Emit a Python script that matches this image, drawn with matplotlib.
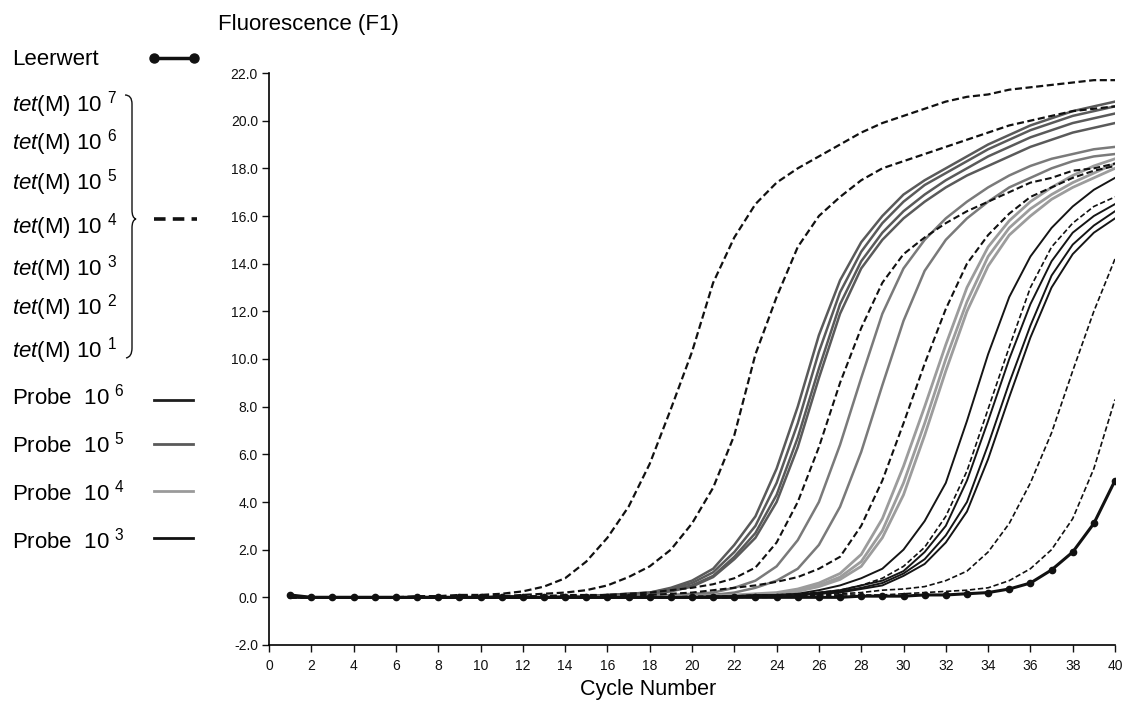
import matplotlib
matplotlib.use("Agg")
import matplotlib.pyplot as plt
from matplotlib.lines import Line2D
from matplotlib.path import Path
from matplotlib.patches import PathPatch
from matplotlib.ticker import FormatStrFormatter, MultipleLocator

plt.rcParams["font.family"] = ["Liberation Sans", "DejaVu Sans"]
plt.rcParams["mathtext.fontset"] = "custom"
plt.rcParams["mathtext.rm"] = "Liberation Sans"
plt.rcParams["mathtext.it"] = "Liberation Sans:italic"

# ---- data: fluorescence per cycle ----
cycles = list(range(1, 41))

leerwert = [0.1, 0.0, 0.0, 0.0, 0.0, 0.0, 0.0, 0.0, 0.0, 0.0,
            0.0, 0.0, 0.0, 0.0, 0.0, 0.0, 0.0, 0.0, 0.0, 0.0,
            0.0, 0.0, 0.0, 0.0, 0.0, 0.0, 0.0, 0.05, 0.05, 0.05,
            0.1, 0.1, 0.15, 0.2, 0.35, 0.6, 1.15, 1.9, 3.1, 4.9]

# tet(M) standards 10^7 ... 10^1 (dashed)
tet_1e7 = [0.05, 0.0, 0.0, 0.0, 0.0, 0.0, 0.05, 0.05, 0.1, 0.1,
           0.15, 0.25, 0.45, 0.8, 1.5, 2.5, 3.8, 5.6, 7.9, 10.3,
           13.2, 15.1, 16.5, 17.4, 18.0, 18.5, 19.0, 19.5, 19.9, 20.2,
           20.5, 20.8, 21.0, 21.1, 21.3, 21.4, 21.5, 21.6, 21.7, 21.7]
tet_1e6 = [0.0, 0.0, 0.0, 0.0, 0.0, 0.0, 0.0, 0.0, 0.05, 0.05,
           0.05, 0.1, 0.15, 0.2, 0.3, 0.5, 0.85, 1.3, 2.0, 3.1,
           4.6, 6.8, 10.2, 12.6, 14.7, 16.0, 16.8, 17.5, 18.0, 18.3,
           18.6, 18.9, 19.2, 19.5, 19.8, 20.0, 20.2, 20.4, 20.5, 20.6]
tet_1e5 = [0.0, 0.0, 0.0, 0.0, 0.0, 0.0, 0.0, 0.0, 0.0, 0.0,
           0.05, 0.05, 0.05, 0.1, 0.1, 0.1, 0.15, 0.2, 0.3, 0.4,
           0.55, 0.8, 1.25, 2.3, 4.0, 6.3, 9.0, 11.3, 13.2, 14.4,
           15.1, 15.7, 16.2, 16.6, 17.0, 17.4, 17.6, 17.9, 18.0, 18.2]
tet_1e4 = [0.0, 0.0, 0.0, 0.0, 0.0, 0.0, 0.0, 0.0, 0.0, 0.0,
           0.0, 0.0, 0.05, 0.05, 0.05, 0.05, 0.1, 0.1, 0.15, 0.2,
           0.3, 0.4, 0.5, 0.65, 0.85, 1.2, 1.7, 3.0, 4.9, 7.3,
           9.8, 12.1, 14.0, 15.2, 16.1, 16.8, 17.2, 17.6, 17.9, 18.1]
tet_1e3 = [0.0, 0.0, 0.0, 0.0, 0.0, 0.0, 0.0, 0.0, 0.0, 0.0,
           0.0, 0.0, 0.0, 0.0, 0.0, 0.0, 0.0, 0.0, 0.0, 0.05,
           0.05, 0.05, 0.1, 0.1, 0.15, 0.2, 0.3, 0.5, 0.8, 1.3,
           2.1, 3.4, 5.3, 7.9, 10.5, 13.0, 14.7, 15.7, 16.4, 16.8]
tet_1e2 = [0.0, 0.0, 0.0, 0.0, 0.0, 0.0, 0.0, 0.0, 0.0, 0.0,
           0.0, 0.0, 0.0, 0.0, 0.0, 0.0, 0.0, 0.0, 0.0, 0.0,
           0.0, 0.0, 0.05, 0.05, 0.05, 0.1, 0.15, 0.2, 0.3, 0.35,
           0.45, 0.7, 1.1, 1.9, 3.1, 4.8, 6.9, 9.5, 12.0, 14.2]
tet_1e1 = [0.0, 0.0, 0.0, 0.0, 0.0, 0.0, 0.0, 0.0, 0.0, 0.0,
           0.0, 0.0, 0.0, 0.0, 0.0, 0.0, 0.0, 0.0, 0.0, 0.0,
           0.0, 0.0, 0.0, 0.0, 0.05, 0.05, 0.1, 0.1, 0.1, 0.15,
           0.2, 0.25, 0.3, 0.4, 0.7, 1.2, 2.0, 3.3, 5.4, 8.3]

# samples, four replicates per dilution where visible
probe_a = [
    [0.0, 0.0, 0.0, 0.0, 0.0, 0.0, 0.0, 0.0, 0.0, 0.0,
     0.0, 0.0, 0.0, 0.05, 0.05, 0.1, 0.15, 0.2, 0.4, 0.7,
     1.2, 2.2, 3.4, 5.4, 8.0, 11.0, 13.3, 14.9, 16.0, 16.9,
     17.5, 18.0, 18.5, 19.0, 19.4, 19.8, 20.1, 20.4, 20.6, 20.8],
    [0.0, 0.0, 0.0, 0.0, 0.0, 0.0, 0.0, 0.0, 0.0, 0.0,
     0.0, 0.0, 0.0, 0.0, 0.05, 0.1, 0.15, 0.2, 0.35, 0.6,
     1.05, 1.9, 3.0, 4.8, 7.3, 10.3, 12.8, 14.5, 15.7, 16.6,
     17.3, 17.8, 18.3, 18.8, 19.2, 19.6, 19.9, 20.2, 20.4, 20.6],
    [0.0, 0.0, 0.0, 0.0, 0.0, 0.0, 0.0, 0.0, 0.0, 0.0,
     0.0, 0.0, 0.0, 0.0, 0.05, 0.05, 0.1, 0.15, 0.3, 0.5,
     0.9, 1.7, 2.7, 4.3, 6.7, 9.6, 12.3, 14.1, 15.3, 16.2,
     16.9, 17.5, 18.0, 18.5, 18.9, 19.3, 19.6, 19.9, 20.1, 20.3],
    [0.0, 0.0, 0.0, 0.0, 0.0, 0.0, 0.0, 0.0, 0.0, 0.0,
     0.0, 0.0, 0.0, 0.0, 0.05, 0.05, 0.1, 0.15, 0.25, 0.45,
     0.85, 1.6, 2.5, 4.0, 6.3, 9.2, 11.9, 13.8, 15.0, 15.9,
     16.6, 17.2, 17.7, 18.1, 18.5, 18.9, 19.2, 19.5, 19.7, 19.9],
]
probe_b = [
    [0.0, 0.0, 0.0, 0.0, 0.0, 0.0, 0.0, 0.0, 0.0, 0.0,
     0.0, 0.0, 0.0, 0.0, 0.05, 0.05, 0.05, 0.1, 0.1, 0.15,
     0.2, 0.4, 0.7, 1.3, 2.4, 4.0, 6.4, 9.2, 11.9, 13.8,
     15.0, 15.9, 16.6, 17.2, 17.7, 18.1, 18.4, 18.6, 18.8, 18.9],
    [0.0, 0.0, 0.0, 0.0, 0.0, 0.0, 0.0, 0.0, 0.0, 0.0,
     0.0, 0.0, 0.0, 0.0, 0.0, 0.05, 0.05, 0.05, 0.05, 0.1,
     0.1, 0.2, 0.4, 0.7, 1.2, 2.2, 3.8, 6.1, 8.9, 11.6,
     13.7, 15.0, 15.9, 16.6, 17.2, 17.6, 18.0, 18.3, 18.5, 18.6],
]
probe_c = [
    [0.0, 0.0, 0.0, 0.0, 0.0, 0.0, 0.0, 0.0, 0.0, 0.0,
     0.0, 0.0, 0.0, 0.0, 0.0, 0.0, 0.0, 0.0, 0.05, 0.05,
     0.05, 0.1, 0.15, 0.2, 0.35, 0.6, 1.0, 1.8, 3.3, 5.5,
     8.0, 10.6, 13.0, 14.7, 15.8, 16.6, 17.2, 17.7, 18.1, 18.4],
    [0.0, 0.0, 0.0, 0.0, 0.0, 0.0, 0.0, 0.0, 0.0, 0.0,
     0.0, 0.0, 0.0, 0.0, 0.0, 0.0, 0.0, 0.0, 0.0, 0.05,
     0.05, 0.05, 0.1, 0.15, 0.3, 0.5, 0.85, 1.5, 2.8, 4.8,
     7.3, 10.0, 12.4, 14.3, 15.5, 16.3, 16.9, 17.4, 17.8, 18.2],
    [0.0, 0.0, 0.0, 0.0, 0.0, 0.0, 0.0, 0.0, 0.0, 0.0,
     0.0, 0.0, 0.0, 0.0, 0.0, 0.0, 0.0, 0.0, 0.0, 0.05,
     0.05, 0.05, 0.1, 0.15, 0.25, 0.45, 0.75, 1.3, 2.5, 4.3,
     6.8, 9.5, 12.0, 13.9, 15.2, 16.0, 16.7, 17.2, 17.6, 18.0],
]
probe_d = [
    [0.0, 0.0, 0.0, 0.0, 0.0, 0.0, 0.0, 0.0, 0.0, 0.0,
     0.0, 0.0, 0.0, 0.0, 0.0, 0.0, 0.0, 0.0, 0.0, 0.0,
     0.05, 0.05, 0.1, 0.1, 0.15, 0.3, 0.5, 0.8, 1.2, 2.0,
     3.2, 4.8, 7.4, 10.2, 12.6, 14.3, 15.5, 16.4, 17.1, 17.6],
    [0.0, 0.0, 0.0, 0.0, 0.0, 0.0, 0.0, 0.0, 0.0, 0.0,
     0.0, 0.0, 0.0, 0.0, 0.0, 0.0, 0.0, 0.0, 0.0, 0.0,
     0.0, 0.05, 0.05, 0.1, 0.1, 0.2, 0.3, 0.5, 0.7, 1.1,
     1.9, 3.0, 4.9, 7.4, 10.0, 12.3, 14.1, 15.3, 16.0, 16.5],
    [0.0, 0.0, 0.0, 0.0, 0.0, 0.0, 0.0, 0.0, 0.0, 0.0,
     0.0, 0.0, 0.0, 0.0, 0.0, 0.0, 0.0, 0.0, 0.0, 0.0,
     0.0, 0.0, 0.05, 0.05, 0.1, 0.15, 0.25, 0.4, 0.6, 1.0,
     1.6, 2.6, 4.0, 6.4, 9.0, 11.4, 13.5, 14.8, 15.6, 16.2],
    [0.0, 0.0, 0.0, 0.0, 0.0, 0.0, 0.0, 0.0, 0.0, 0.0,
     0.0, 0.0, 0.0, 0.0, 0.0, 0.0, 0.0, 0.0, 0.0, 0.0,
     0.0, 0.0, 0.05, 0.05, 0.1, 0.15, 0.2, 0.35, 0.5, 0.9,
     1.4, 2.3, 3.6, 5.8, 8.4, 10.9, 13.0, 14.4, 15.3, 15.9],
]

tet_labels = ["7", "6", "5", "4", "3", "2", "1"]
probe_labels = ["6", "5", "4", "3"]
probe_colors = ["#1e1e1e", "#5a5a5a", "#9a9a9a", "#111111"]

# ---- figure ----
W, H = 1125, 712
fig = plt.figure(figsize=(W / 100, H / 100), dpi=100)
ax = fig.add_axes([269 / W, 1 - 645 / H, 846 / W, 572 / H])


def fx(px):
    return px / W


def fy(py):
    return 1 - py / H


dash = (0, (3.2, 1.6))
for vals, lw in [(tet_1e7, 1.6), (tet_1e6, 1.6), (tet_1e5, 1.5), (tet_1e4, 1.5),
                 (tet_1e3, 1.2), (tet_1e2, 1.2), (tet_1e1, 1.2)]:
    ax.plot(cycles, vals, color="#111111", lw=lw, ls=dash, zorder=3)

for vals in probe_a:
    ax.plot(cycles, vals, color="#5a5a5a", lw=1.8, zorder=2)
for vals in probe_b:
    ax.plot(cycles, vals, color="#7a7a7a", lw=1.8, zorder=2)
for vals in probe_c:
    ax.plot(cycles, vals, color="#9c9c9c", lw=2.0, zorder=2)
for vals in probe_d:
    ax.plot(cycles, vals, color="#151515", lw=1.4, zorder=2)

ax.plot(cycles, leerwert, color="#111111", lw=2.2, marker="o", ms=4.5, zorder=4)

ax.set_xlim(0, 40)
ax.set_ylim(-2, 22)
ax.xaxis.set_major_locator(MultipleLocator(2))
ax.yaxis.set_major_locator(MultipleLocator(2))
ax.yaxis.set_major_formatter(FormatStrFormatter("%.1f"))
for s in ["top", "right"]:
    ax.spines[s].set_visible(False)
for s in ["left", "bottom"]:
    ax.spines[s].set_linewidth(1.2)
ax.tick_params(axis="both", direction="out", length=5, width=1.0,
               labelsize=10, colors="#111111")
ax.tick_params(axis="x", pad=5)
ax.tick_params(axis="y", pad=3)

fig.text(fx(648), fy(690), "Cycle Number", fontsize=15.5, ha="center", va="center")
fig.text(fx(218), fy(30), "Fluorescence (F1)", fontsize=16, ha="left", va="baseline")

# ---- hand-drawn legend on the left ----
fig.text(fx(12), fy(65), "Leerwert", fontsize=16, va="baseline")
fig.add_artist(Line2D([fx(154), fx(194)], [fy(58), fy(58)], color="#111111",
                      lw=2.5, marker="o", ms=6.5, transform=fig.transFigure))

tet_base = [112, 150, 190, 233, 275, 315, 358]
for lab, yb in zip(tet_labels, tet_base):
    fig.text(fx(12), fy(yb), r"$\mathit{tet}$(M) 10 $^{%s}$" % lab,
             fontsize=16, va="baseline")

fig.add_artist(Line2D([fx(154), fx(197)], [fy(219), fy(219)], color="#111111",
                      lw=2.6, ls=(0, (3.2, 2.0)), transform=fig.transFigure))

# curly brace grouping the standards
verts = [(125, 95), (132, 95), (132, 104),
         (132, 210), (132, 218), (136, 219),
         (132, 220), (132, 228),
         (132, 348), (132, 357), (126, 358)]
codes = [Path.MOVETO, Path.CURVE3, Path.CURVE3,
         Path.LINETO, Path.CURVE3, Path.CURVE3,
         Path.CURVE3, Path.CURVE3,
         Path.LINETO, Path.CURVE3, Path.CURVE3]
brace = Path([(fx(x), fy(y)) for x, y in verts], codes)
fig.add_artist(PathPatch(brace, fill=False, lw=1.0, color="#111111",
                         transform=fig.transFigure))

probe_base = [405, 453, 500, 548]
probe_line_y = [400, 444, 491, 538]
for lab, yb, yl, col in zip(probe_labels, probe_base, probe_line_y, probe_colors):
    fig.text(fx(12), fy(yb), r"Probe  10 $^{%s}$" % lab, fontsize=16, va="baseline")
    fig.add_artist(Line2D([fx(154), fx(193)], [fy(yl), fy(yl)], color=col,
                          lw=2.0, transform=fig.transFigure))

fig.savefig("out.png", dpi=100)
